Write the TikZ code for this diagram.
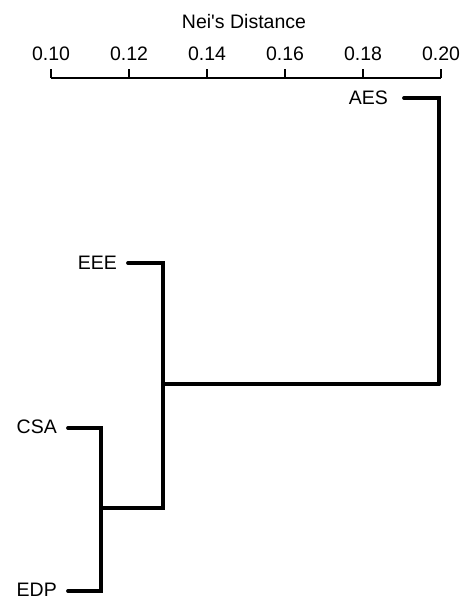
\documentclass[tikz,border=0pt]{standalone}
\usepackage{fontspec}
\setmainfont{Liberation Sans}
\begin{document}
\begin{tikzpicture}[x=1pt,y=-1pt,
  lbl/.style={font=\fontsize{19.5}{22}\selectfont, inner sep=0pt},
  ticklbl/.style={font=\fontsize{19.5}{22}\selectfont, inner sep=0pt, anchor=base},
  branch/.style={line width=3.8pt, line cap=round, line join=miter},
  axisline/.style={line width=2pt}]
\useasboundingbox (0,0) rectangle (466,596);
% axis
\node[ticklbl] (title) at (244,29) {Nei\textquotesingle s Distance};
\coordinate (a0) at (51,78);
\coordinate (a5) at (441,78);
\draw[axisline] (a0) -- (a5);
\foreach \i/\x/\t in {0/51/0.10,1/129/0.12,2/207/0.14,3/285/0.16,4/363/0.18,5/441/0.20}{
  \coordinate (t\i) at (\x,78);
  \draw[axisline] (t\i) -- ++(0,-9);
  \node[ticklbl] (tl\i) at (\x,61) {\t};
}
% leaves
\node[lbl, anchor=base east] (AES) at (388,105) {AES};
\node[lbl, anchor=base east] (EEE) at (117,269) {EEE};
\node[lbl, anchor=base east] (CSA) at (57,433) {CSA};
\node[lbl, anchor=base east] (EDP) at (57,596) {EDP};
\coordinate (aes) at (404,98);
\coordinate (eee) at (128,263);
\coordinate (csa) at (68,428);
\coordinate (edp) at (68,591);
% internal nodes
\coordinate (n1) at (101,508);
\coordinate (n2) at (163,384);
\coordinate (n3) at (439,384);
\draw[branch] (csa) -| (n1);
\draw[branch] (edp) -| (n1);
\draw[branch] (n1) -| (n2);
\draw[branch] (eee) -| (n2);
\draw[branch] (n2) -- (n3);
\draw[branch] (aes) -| (n3);
\end{tikzpicture}
\end{document}
